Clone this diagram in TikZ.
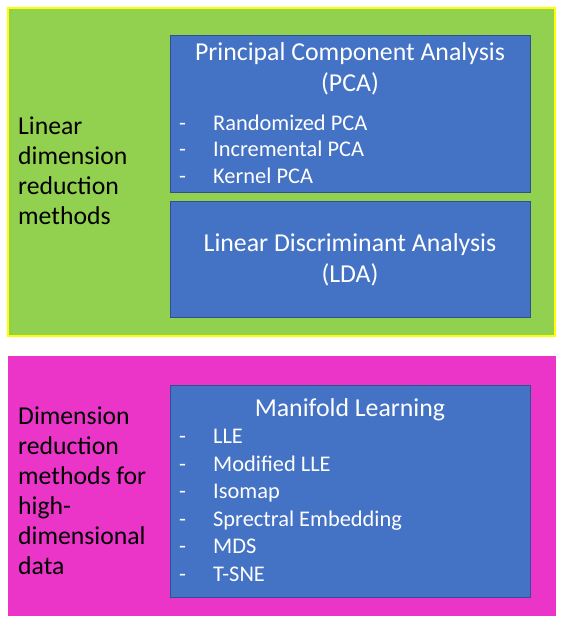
\documentclass[tikz,border=0pt]{standalone}
\usepackage{fontspec}
\setmainfont{Carlito}
\definecolor{panelgreen}{HTML}{92D050}
\definecolor{panelyellow}{HTML}{FFFF00}
\definecolor{panelmagenta}{HTML}{EA35C8}
\definecolor{boxblue}{HTML}{4472C4}
\definecolor{boxedge}{HTML}{2F528F}
\tikzset{
  methodbox/.style={fill=boxblue, draw=boxedge, line width=1pt},
  % multi-line nodes: the base anchor sits on the last line's baseline
  sidelabel/.style={anchor=base west, inner sep=0pt, align=left, text=black,
    font=\fontsize{25.7}{30}\selectfont},
  boxtitle/.style={anchor=base, inner sep=0pt, align=center, text=white,
    font=\fontsize{25.8}{31}\selectfont},
  itemlist/.style={anchor=base west, inner sep=0pt, align=left, text=white},
}
\newcommand{\listitem}[1]{\makebox[34pt][l]{-}#1}
\begin{document}
\begin{tikzpicture}[x=1pt, y=-1pt]
  \useasboundingbox (0,0) rectangle (564,635);

  % linear methods panel
  \fill[panelgreen] (8,8) rectangle (555,336);
  \draw[panelyellow, line width=2pt] (8,8) rectangle (555,336);
  \draw[methodbox] (170,35) rectangle (530,192);
  \draw[methodbox] (170,201) rectangle (530,317);

  \node[sidelabel] (linlabel) at (18,224) {Linear\\dimension\\reduction\\methods};
  \node[boxtitle] (pcatitle) at (350,91) {Principal Component Analysis\\(PCA)};
  \node[itemlist, font=\fontsize{22.4}{26.7}\selectfont] (pcalist) at (179,183.4)
    {\listitem{Randomized PCA}\\\listitem{Incremental PCA}\\\listitem{Kernel PCA}};
  \node[boxtitle] (ldatitle) at (350,282) {Linear Discriminant Analysis\\(LDA)};

  % high-dimensional methods panel
  \fill[panelmagenta] (8,356) rectangle (556,616);
  \draw[methodbox] (170,385) rectangle (530,597);

  \node[sidelabel] (hdlabel) at (18,574)
    {Dimension\\reduction\\methods for\\high-\\dimensional\\data};
  \node[boxtitle] (mantitle) at (350,416) {Manifold Learning};
  \node[itemlist, font=\fontsize{22.4}{27.5}\selectfont] (manlist) at (179,581)
    {\listitem{LLE}\\\listitem{Modified LLE}\\\listitem{Isomap}\\\listitem{Sprectral Embedding}\\\listitem{MDS}\\\listitem{T-SNE}};
\end{tikzpicture}
\end{document}
